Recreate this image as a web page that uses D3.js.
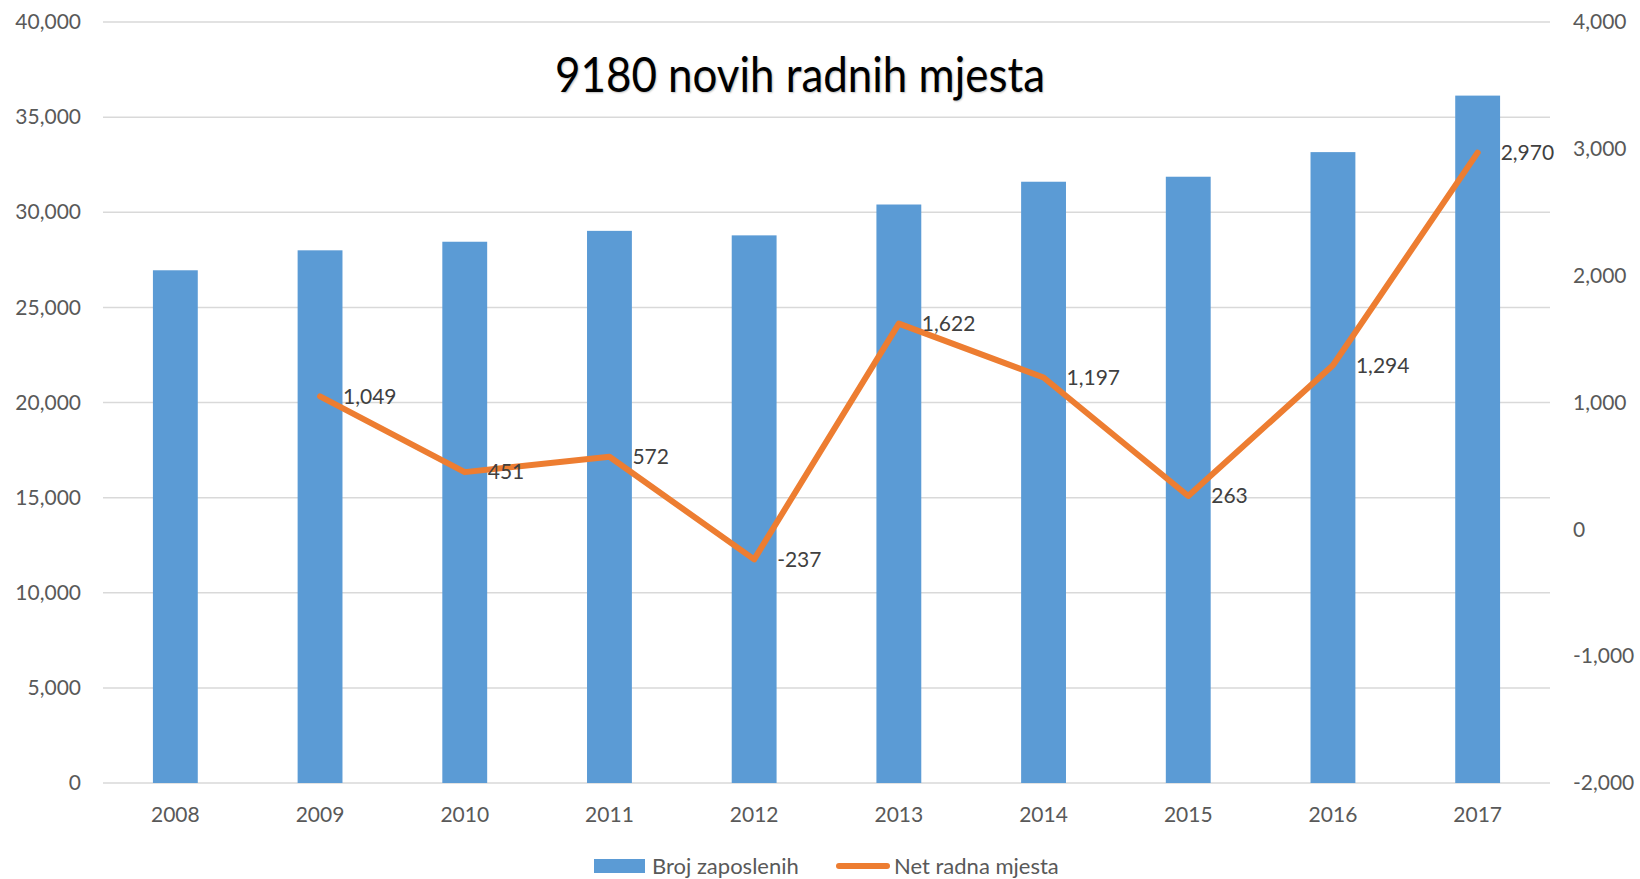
<html>
<head>
<meta charset="utf-8">
<script src="https://d3js.org/d3.v7.min.js"></script>
<style>
  body { margin: 0; background: #fff; }
  text { font-family: Lato, "Open Sans", sans-serif; }
</style>
</head>
<body>
<svg id="chart" width="1640" height="879"></svg>
<script>
var years = ["2008","2009","2010","2011","2012","2013","2014","2015","2016","2017"];
var employed = [26950, 27999, 28450, 29022, 28785, 30407, 31604, 31867, 33161, 36131];
var netJobs = [null, 1049, 451, 572, -237, 1622, 1197, 263, 1294, 2970];
var leftTicks = [0, 5000, 10000, 15000, 20000, 25000, 30000, 35000, 40000];
var rightTicks = [-2000, -1000, 0, 1000, 2000, 3000, 4000];

var svg = d3.select("#chart");
var mLeft = 103, mRight = 1550, mTop = 22, mBottom = 783;
var comma = d3.format(",");
var fmt = function(v) { return comma(v).replace("\u2212", "-"); };

var x = d3.scaleBand().domain(years).range([mLeft, mRight]).paddingInner(0.69).paddingOuter(0.345);
var xc = function(d) { return x(d) + x.bandwidth() / 2; };
var yL = d3.scaleLinear().domain([0, 40000]).range([mBottom, mTop]);
var yR = d3.scaleLinear().domain([-2000, 4000]).range([mBottom, mTop]);

// gridlines
svg.append("g").selectAll("line").data(leftTicks).enter().append("line")
  .attr("x1", mLeft).attr("x2", mRight)
  .attr("y1", function(d) { return yL(d); }).attr("y2", function(d) { return yL(d); })
  .attr("stroke", "#d9d9d9").attr("stroke-width", 1.5);

// left axis
var gl = svg.append("g").attr("transform", "translate(" + (mLeft - 22) + ",0)")
  .call(d3.axisLeft(yL).tickValues(leftTicks).tickFormat(fmt).tickSize(0).tickPadding(0));
gl.select(".domain").remove();
gl.selectAll("text").attr("fill", "#595959").style("font-size", "21px").style("font-family", "Lato, sans-serif");

// right axis
var gr = svg.append("g").attr("transform", "translate(1573,0)")
  .call(d3.axisRight(yR).tickValues(rightTicks).tickFormat(fmt).tickSize(0).tickPadding(0));
gr.select(".domain").remove();
gr.selectAll("text").attr("fill", "#595959").style("font-size", "21px").style("font-family", "Lato, sans-serif");

// bars
svg.append("g").selectAll("rect").data(years).enter().append("rect")
  .attr("x", function(d) { return x(d); })
  .attr("width", x.bandwidth())
  .attr("y", function(d, i) { return yL(employed[i]); })
  .attr("height", function(d, i) { return mBottom - yL(employed[i]); })
  .attr("fill", "#5b9bd5");

// bottom axis
var gb = svg.append("g").attr("transform", "translate(0," + mBottom + ")")
  .call(d3.axisBottom(x).tickSize(0).tickPadding(24));
gb.select(".domain").remove();
gb.selectAll("text").attr("fill", "#595959").style("font-size", "21px").style("font-family", "Lato, sans-serif");

// line
var pts = years.map(function(d, i) { return {year: d, v: netJobs[i]}; }).filter(function(p) { return p.v !== null; });
var line = d3.line().x(function(p) { return xc(p.year); }).y(function(p) { return yR(p.v); });
svg.append("path").datum(pts).attr("d", line)
  .attr("fill", "none").attr("stroke", "#ed7d31").attr("stroke-width", 6)
  .attr("stroke-linejoin", "round").attr("stroke-linecap", "round");

// data labels
svg.append("g").selectAll("text").data(pts).enter().append("text")
  .attr("x", function(p) { return xc(p.year) + 23; })
  .attr("y", function(p) { return yR(p.v); })
  .attr("dy", "0.35em")
  .attr("fill", "#404040").style("font-size", "21px")
  .text(function(p) { return fmt(p.v); });

// title
svg.append("text").attr("x", 800).attr("y", 92).attr("text-anchor", "middle")
  .style("font-size", "49px").attr("fill", "#000")
  .attr("textLength", 490).attr("lengthAdjust", "spacingAndGlyphs")
  .style("text-shadow", "1px 1px 2px rgba(0,0,0,0.25)")
  .text("9180 novih radnih mjesta");

// legend
var lg = svg.append("g");
lg.append("rect").attr("x", 594).attr("y", 859).attr("width", 51).attr("height", 14).attr("fill", "#5b9bd5");
lg.append("text").attr("x", 652).attr("y", 866).attr("dy", "0.35em").attr("fill", "#595959").style("font-size", "22px").text("Broj zaposlenih");
lg.append("line").attr("x1", 839).attr("x2", 887).attr("y1", 866).attr("y2", 866)
  .attr("stroke", "#ed7d31").attr("stroke-width", 6).attr("stroke-linecap", "round");
lg.append("text").attr("x", 894).attr("y", 866).attr("dy", "0.35em").attr("fill", "#595959").style("font-size", "22px").text("Net radna mjesta");
</script>
</body>
</html>
